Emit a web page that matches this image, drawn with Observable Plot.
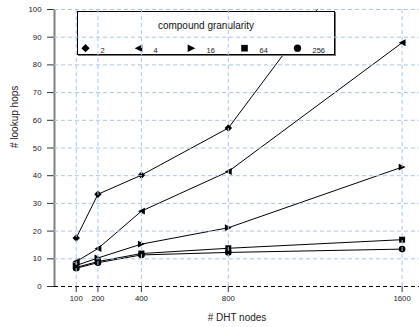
<!DOCTYPE html>
<html>
<head>
<meta charset="utf-8">
<script src="https://cdn.jsdelivr.net/npm/d3@7"></script>
<script src="https://cdn.jsdelivr.net/npm/@observablehq/plot@0.6"></script>
<style>
  body { margin: 0; background: #fff; font-family: "Liberation Sans", Arial, sans-serif; }
  #wrap { position: relative; width: 419px; height: 327px; }
  #wrap > svg { position: absolute; left: 0; top: 0; }
  #legend { position: absolute; left: 77px; top: 11px; width: 256px; height: 42px;
            border: 1px solid #000; background: #fff; box-shadow: 1px 1px 0 #777; }
  #legend .title { position: absolute; left: 0; top: 8px; width: 100%; text-align: center;
            font-size: 10px; line-height: 12px; color: #111; }
  #legend svg { position: absolute; left: 0; top: 0; }
  #wrap > svg.overlay { pointer-events: none; }
</style>
</head>
<body>
<div id="wrap"><div id="legend"><div class="title">compound granularity</div></div></div>
<script>
// ---- data ----
const nodes = [100, 200, 400, 800, 1600];
const seriesNames = ["2", "4", "16", "64", "256"];
const g2   = [17.5, 33.3, 40.2, 57.2, 141];
const g4   = [9.0, 13.7, 27.2, 41.5, 88.0];
const g16  = [7.6, 10.3, 15.3, 21.2, 43.1];
const g64  = [6.9, 9.0, 11.9, 13.8, 16.9];
const g256 = [6.6, 8.6, 11.4, 12.3, 13.5];
const yTicks = [0, 10, 20, 30, 40, 50, 60, 70, 80, 90, 100];
const legendTitle = "compound granularity";
const xLabel = "# DHT nodes";
const yLabel = "# lookup hops";

const seriesValues = [g2, g4, g16, g64, g256];
const data = seriesNames.flatMap((s, i) => nodes.map((n, j) => ({series: s, nodes: n, hops: seriesValues[i][j]})));

// ---- custom symbols ----
const rad = size => Math.sqrt(size / Math.PI);
const diamondSym = {draw(ctx, size) { const r = rad(size) * 1.25; ctx.moveTo(0, -r); ctx.lineTo(r, 0); ctx.lineTo(0, r); ctx.lineTo(-r, 0); ctx.closePath(); }};
const triLeft = {draw(ctx, size) { const r = rad(size) * 1.15; ctx.moveTo(-r, 0); ctx.lineTo(r, -r); ctx.lineTo(r, r); ctx.closePath(); }};
const triRight = {draw(ctx, size) { const r = rad(size) * 1.15; ctx.moveTo(r, 0); ctx.lineTo(-r, -r); ctx.lineTo(-r, r); ctx.closePath(); }};
const squareSym = {draw(ctx, size) { const r = rad(size) * 1.0; ctx.rect(-r, -r, 2 * r, 2 * r); }};
const circleSym = {draw(ctx, size) { const r = rad(size) * 1.1; ctx.moveTo(r, 0); ctx.arc(0, 0, r, 0, 2 * Math.PI); }};
const symbolScale = {domain: seriesNames, range: [diamondSym, triLeft, triRight, squareSym, circleSym]};

const gridColor = "#a9c4f5";
const frame = {width: 419, height: 327, marginLeft: 54, marginRight: 0, marginTop: 9, marginBottom: 41};
const xScale = {domain: [0, 1680], ticks: nodes, label: null};
const yScale = {domain: [0, 100], ticks: yTicks, label: null};
const fontStyle = {fontFamily: "'Liberation Sans', Arial, sans-serif", fontSize: "7.5px", color: "#222", background: "transparent"};

const chart = Plot.plot({
  ...frame,
  style: fontStyle,
  x: xScale, y: yScale,
  symbol: symbolScale,
  marks: [
    Plot.ruleY([0], {stroke: "#000", strokeDasharray: "4,3"}),
    Plot.axisX({ticks: nodes, tickSize: 6, tickPadding: 3, stroke: "#333", tickFormat: d => String(d), fontSize: 7.8}),
    Plot.axisY({ticks: yTicks, tickSize: 7, tickPadding: 6, stroke: "#333", tickFormat: d => String(d), fontSize: 7.8}),
    Plot.ruleX([0], {stroke: "#808080", strokeWidth: 2, y1: 0, y2: 100}),
    Plot.line(data, {x: "nodes", y: "hops", z: "series", stroke: "#000", strokeWidth: 1, clip: true}),
    Plot.dot(data, {x: "nodes", y: "hops", symbol: "series", r: 3, fill: "#000", stroke: "none", clip: true}),
    Plot.text([xLabel], {frameAnchor: "bottom", dy: 34, fontSize: 10, fill: "#222"}),
    Plot.text([yLabel], {frameAnchor: "left", dx: -40, rotate: -90, fontSize: 10, fill: "#222"})
  ]
});
const wrap = document.getElementById("wrap");
wrap.insertBefore(chart, document.getElementById("legend"));

// grid drawn on top of everything (including the legend box), as in the reference
const gridOverlay = Plot.plot({
  ...frame,
  style: fontStyle,
  x: {...xScale, axis: null}, y: {...yScale, axis: null},
  marks: [
    Plot.gridX(nodes, {stroke: gridColor, strokeOpacity: 1, strokeDasharray: "4,3"}),
    Plot.gridY(yTicks.filter(d => d > 0), {stroke: gridColor, strokeOpacity: 1, strokeDasharray: "4,3"})
  ]
});
gridOverlay.classList.add("overlay");
wrap.appendChild(gridOverlay);

const legendPlot = Plot.plot({
  width: 256, height: 42,
  marginLeft: 6.7, marginRight: 36.3, marginTop: 29.4, marginBottom: 0,
  style: {...fontStyle, overflow: "visible"},
  x: {type: "point", domain: seriesNames, padding: 0, axis: null},
  symbol: symbolScale,
  marks: [
    Plot.dot(seriesNames, {x: d => d, symbol: d => d, r: 3.3, fill: "#000", stroke: "none"}),
    Plot.text(seriesNames, {x: d => d, text: d => d, dx: 15, dy: 2, textAnchor: "start", fontSize: 7.5, fill: "#222"})
  ]
});
document.getElementById("legend").appendChild(legendPlot);
</script>
</body>
</html>
